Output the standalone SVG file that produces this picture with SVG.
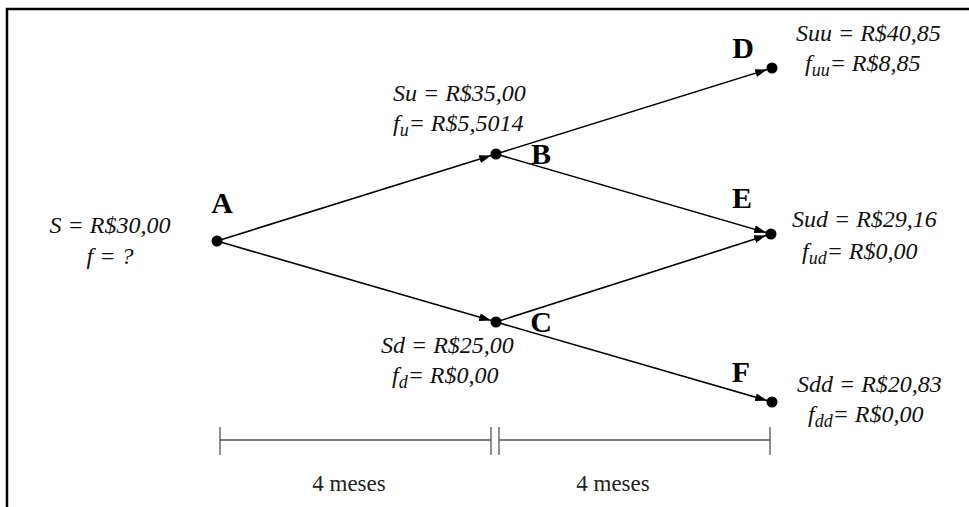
<svg xmlns="http://www.w3.org/2000/svg" width="969" height="507" viewBox="0 0 969 507">
<style>
.val{font-family:"Liberation Serif","Times New Roman",serif;font-style:italic;font-size:24px;fill:#111}
.lbl{font-family:"Liberation Serif","Times New Roman",serif;font-weight:bold;font-size:30px;fill:#000;text-anchor:middle}
.tl{font-family:"Liberation Serif","Times New Roman",serif;font-size:23px;fill:#222;text-anchor:middle}
.edge{stroke:#000;stroke-width:1.6;fill:none;marker-end:url(#arr)}
.node{fill:#000}
.axis{stroke:#555;stroke-width:1.3;fill:none}
.sub{font-size:18px}
</style>
<defs>
<marker id="arr" viewBox="0 0 12 8" refX="12" refY="4" markerWidth="12" markerHeight="8" markerUnits="userSpaceOnUse" orient="auto">
<path d="M0,0 L12,4 L0,8 Z" fill="#000"/>
</marker>
</defs>
<rect width="969" height="507" fill="#fff"/>
<path d="M7,507 V9 H969" stroke="#000" stroke-width="2.5" fill="none"/>
<g id="connectors">
<line class="edge" x1="217" y1="241" x2="491.2" y2="155.5"/>
<line class="edge" x1="217" y1="241" x2="491.2" y2="320.6"/>
<line class="edge" x1="496" y1="154" x2="767.2" y2="69.5"/>
<line class="edge" x1="496" y1="154" x2="766.2" y2="232.6"/>
<line class="edge" x1="496" y1="322" x2="766.2" y2="235.5"/>
<line class="edge" x1="496" y1="322" x2="767.2" y2="400.6"/>
</g>
<g id="A">
<circle class="node" cx="217" cy="241" r="5.5"/>
<text class="lbl" x="222" y="213">A</text>
<text class="val" x="110" y="233" text-anchor="middle">S = R$30,00</text>
<text class="val" x="110" y="264" text-anchor="middle">f = ?</text>
</g>
<g id="B">
<circle class="node" cx="496" cy="154" r="5.5"/>
<text class="lbl" x="541" y="164">B</text>
<text class="val" x="393" y="101">Su = R$35,00</text>
<text class="val" x="393" y="131">f<tspan class="sub" dy="5">u</tspan><tspan dy="-5">= R$5,5014</tspan></text>
</g>
<g id="C">
<circle class="node" cx="496" cy="322" r="5.5"/>
<text class="lbl" x="541" y="332">C</text>
<text class="val" x="381" y="353">Sd = R$25,00</text>
<text class="val" x="392" y="383">f<tspan class="sub" dy="5">d</tspan><tspan dy="-5">= R$0,00</tspan></text>
</g>
<g id="D">
<circle class="node" cx="772" cy="68" r="5.5"/>
<text class="lbl" x="743" y="58">D</text>
<text class="val" x="796" y="41">Suu = R$40,85</text>
<text class="val" x="805" y="71">f<tspan class="sub" dy="5">uu</tspan><tspan dy="-5">= R$8,85</tspan></text>
</g>
<g id="E">
<circle class="node" cx="771" cy="234" r="5.5"/>
<text class="lbl" x="742" y="208">E</text>
<text class="val" x="792" y="227">Sud = R$29,16</text>
<text class="val" x="802" y="259">f<tspan class="sub" dy="5">ud</tspan><tspan dy="-5">= R$0,00</tspan></text>
</g>
<g id="F">
<circle class="node" cx="772" cy="402" r="5.5"/>
<text class="lbl" x="741" y="382">F</text>
<text class="val" x="797" y="392">Sdd = R$20,83</text>
<text class="val" x="808" y="422">f<tspan class="sub" dy="5">dd</tspan><tspan dy="-5">= R$0,00</tspan></text>
</g>
<g id="timeline">
<path class="axis" d="M220,440 H491 M499,440 H770 M220,427 V455 M491,427 V455 M499,427 V455 M770,427 V455"/>
<text class="tl" x="349" y="491">4 meses</text>
<text class="tl" x="613" y="491">4 meses</text>
</g>
</svg>
